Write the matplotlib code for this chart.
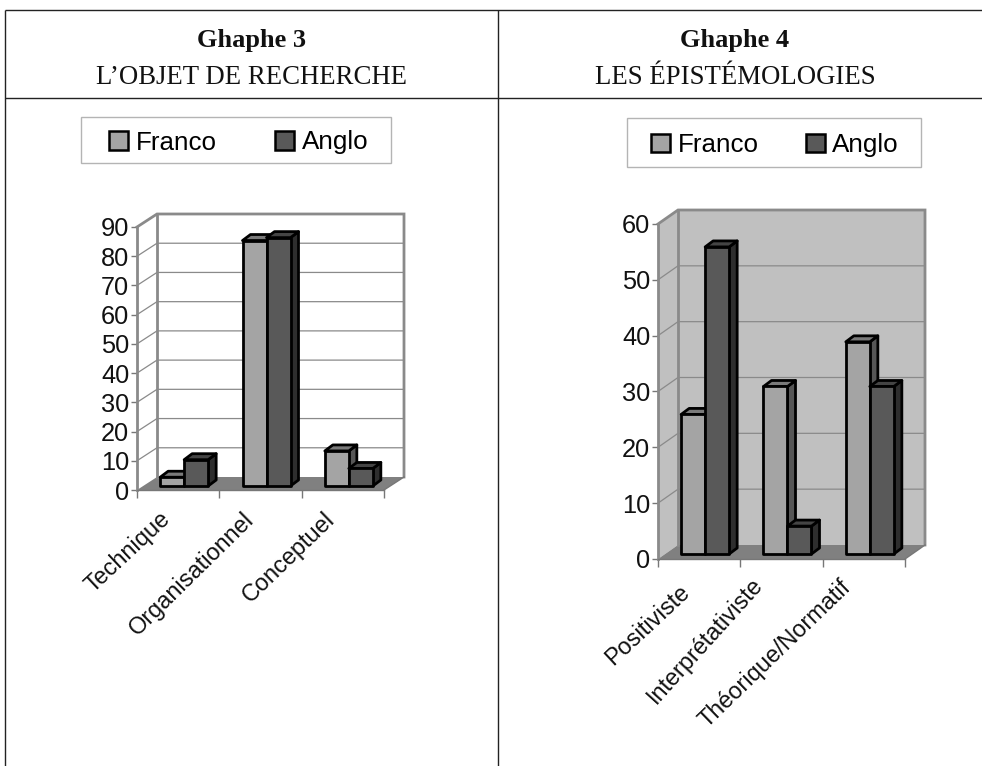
import matplotlib
matplotlib.use("Agg")
import matplotlib.pyplot as plt
from matplotlib.patches import Polygon, Patch
from matplotlib.transforms import Affine2D

W, H = 982, 766
series_names = ["Franco", "Anglo"]

cats_3 = ["Technique", "Organisationnel", "Conceptuel"]
franco_3 = [3, 84, 12]
anglo_3 = [9, 85, 6]
ticks_3 = list(range(0, 91, 10))

cats_4 = ["Positiviste", "Interprétativiste", "Théorique/Normatif"]
franco_4 = [25, 30, 38]
anglo_4 = [55, 5, 30]
ticks_4 = list(range(0, 61, 10))

FRANCO = ("#a4a4a4", "#7a7a7a", "#565656")
ANGLO = ("#595959", "#444444", "#2e2e2e")
SANS = "Liberation Sans"
SERIF = "Liberation Serif"

fig = plt.figure(figsize=(W / 100, H / 100), dpi=100, facecolor="white")

# table frame and headings
bg = fig.add_axes([0, 0, 1, 1])
bg.set_xlim(0, W)
bg.set_ylim(H, 0)
bg.axis("off")
for xs, ys in [((5, W), (9.5, 9.5)), ((5, W), (98, 98)), ((5, 5), (9.5, H)), ((498, 498), (9.5, H))]:
    bg.plot(xs, ys, color="#222222", lw=1.0, solid_capstyle="butt")
for cx, title, sub in [(252, "Ghaphe 3", "L’OBJET DE RECHERCHE"), (735, "Ghaphe 4", "LES ÉPISTÉMOLOGIES")]:
    bg.text(cx, 41, title, family=SERIF, weight="bold", fontsize=19, ha="center", va="center", color="#111111")
    bg.text(cx, 78, sub, family=SERIF, fontsize=19.3, ha="center", va="center", color="#111111")


def chart(left, right, y0, ytop, depth_y, cats, a, b, ticks, wall, base_dx, base_dy, legend_box, legend_shift, col_space, label_shifts, label_rot):
    ax = fig.add_axes([left / W, (H - y0) / H, (right - left) / W, (y0 - ytop) / H])
    ymax = ticks[-1]
    ax.set_xlim(0, len(cats))
    ax.set_ylim(0, ymax)
    ax.patch.set_visible(False)
    for s in ax.spines.values():
        s.set_visible(False)
    ux = (right - left) / len(cats)   # px per category
    uy = (y0 - ytop) / ymax           # px per value
    dx, dy = 20 / ux, depth_y / uy    # depth of the box
    n = len(cats)

    # walls and floor
    ax.add_patch(Polygon([(dx, dy), (n + dx, dy), (n + dx, ymax + dy), (dx, ymax + dy)], fc=wall, ec="none", zorder=1, clip_on=False))
    ax.add_patch(Polygon([(0, 0), (dx, dy), (dx, ymax + dy), (0, ymax)], fc=wall, ec="none", zorder=1, clip_on=False))
    ax.add_patch(Polygon([(0, 0), (n, 0), (n + dx, dy), (dx, dy)], fc="#808080", ec="none", zorder=2, clip_on=False))
    for t in ticks[1:-1]:
        ax.plot([0, dx, n + dx], [t, t + dy, t + dy], color="#8a8a8a", lw=0.9, zorder=2, clip_on=False)
    ax.plot([0, dx, n + dx, n + dx], [ymax, ymax + dy, ymax + dy, dy], color="#8a8a8a", lw=2, zorder=3, clip_on=False, solid_joinstyle="miter")
    ax.plot([dx, dx], [dy, ymax + dy], color="#8a8a8a", lw=2, zorder=3, clip_on=False)
    ax.plot([0, 0], [0, ymax], color="#8a8a8a", lw=2, zorder=3, clip_on=False)
    ax.plot([0, n], [0, 0], color="#777777", lw=1, zorder=3, clip_on=False)
    ax.plot([n, n + dx], [0, dy], color="#777777", lw=1, zorder=3, clip_on=False)

    # bars
    bw = 24 / ux
    bdx, bdy = 8 / ux, 6 / uy
    ox, oy = base_dx / ux, base_dy / uy
    z = 5
    for i in range(n):
        for j, (vals, cols) in enumerate(((a, FRANCO), (b, ANGLO))):
            x0 = i + 0.5 + ox + (j - 1) * bw
            x1 = x0 + bw
            y_0 = oy
            y1 = oy + vals[i]
            kw = dict(ec="black", lw=2.0, joinstyle="round", clip_on=False, zorder=z)
            ax.add_patch(Polygon([(x1, y_0), (x1 + bdx, y_0 + bdy), (x1 + bdx, y1 + bdy), (x1, y1)], fc=cols[2], **kw))
            ax.add_patch(Polygon([(x0, y1), (x1, y1), (x1 + bdx, y1 + bdy), (x0 + bdx, y1 + bdy)], fc=cols[1], **kw))
            ax.add_patch(Polygon([(x0, y_0), (x1, y_0), (x1, y1), (x0, y1)], fc=cols[0], **kw))
            z += 1

    # axes
    ax.set_yticks(ticks)
    ax.set_yticklabels([str(t) for t in ticks], family=SANS, fontsize=18.3, color="#111111")
    ax.tick_params(axis="y", length=4, width=1, color="#777777", pad=1.5)
    ax.set_xticks(range(n + 1))
    ax.set_xticklabels([])
    ax.tick_params(axis="x", which="major", length=6, width=1, color="#777777")
    ax.set_xticks([i + 0.5 for i in range(n)], minor=True)
    ax.set_xticklabels(cats, minor=True, family=SANS, fontsize=16.9, ha="right", rotation_mode="anchor", color="#111111")
    ax.tick_params(axis="x", which="minor", length=0, pad=9)
    for lbl, (sx, sy), rot in zip(ax.get_xticklabels(minor=True), label_shifts, label_rot):
        lbl.set_rotation(rot)
        lbl.set_transform(lbl.get_transform() + Affine2D().translate(sx, sy))

    # legend, in its box
    l, t, r, btm = legend_box
    bg.add_patch(Polygon([(l, t), (r, t), (r, btm), (l, btm)], fc="white", ec="#b4b4b4", lw=1, zorder=2))
    leg = bg.legend(
        handles=[Patch(fc=FRANCO[0], ec="black", lw=1.8), Patch(fc=ANGLO[0], ec="black", lw=1.8)],
        labels=series_names, ncols=2, loc="center",
        bbox_to_anchor=((l + r) / 2 + legend_shift, (t + btm) / 2 + 2.5), bbox_transform=bg.transData,
        frameon=False, prop={"family": SANS, "size": 18.7},
        handlelength=0.72, handleheight=0.72, handletextpad=0.3, columnspacing=col_space, borderpad=0)
    bg.add_artist(leg)
    bg.legend_ = None
    leg.set_zorder(3)


chart(137, 384, 490, 227, 13, cats_3, franco_3, anglo_3, ticks_3, "white", 6, 4, (81, 117, 391, 163), 3, 2.25,
      [(-19, -5), (-18, -5), (-19, -5)], [43, 44.5, 44])
chart(658, 905, 559, 224, 14, cats_4, franco_4, anglo_4, ticks_4, "#c0c0c0", 6, 5, (627, 118, 921, 167), 1, 1.83,
      [(-21, -9), (-31, -2), (-24, -4)], [43, 48, 44])

fig.savefig("out.png", dpi=100, facecolor="white")
